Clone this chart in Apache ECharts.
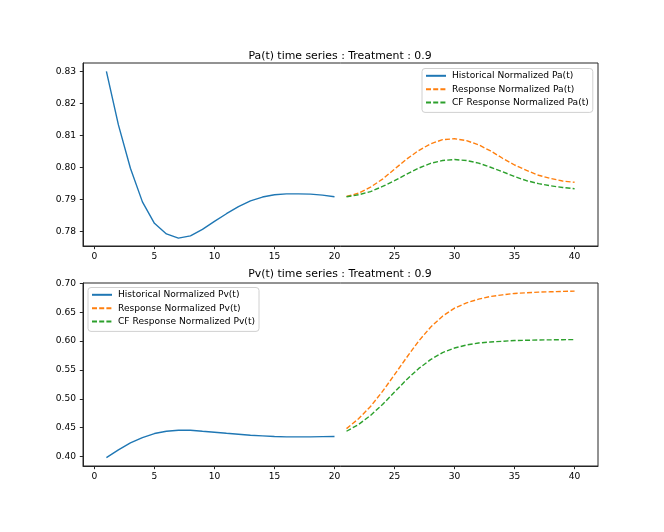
<!DOCTYPE html>
<html>
<head>
<meta charset="utf-8">
<script src="https://cdn.jsdelivr.net/npm/echarts@6/dist/echarts.min.js"></script>
<style>
html,body{margin:0;padding:0;background:#fff;}
#c{width:664px;height:532px;}
</style>
</head>
<body>
<div id="c"></div>
<script>
// ---- data ----
const tHist = [1,2,3,4,5,6,7,8,9,10,11,12,13,14,15,16,17,18,19,20];
const tResp = [21,22,23,24,25,26,27,28,29,30,31,32,33,34,35,36,37,38,39,40];

const paHist = [0.8300,0.8133,0.7998,0.7893,0.7826,0.7793,0.7780,0.7787,0.7807,0.7832,
                0.7856,0.7878,0.7896,0.7908,0.7915,0.7918,0.7918,0.7917,0.7914,0.7909];
const paResp = [0.7910,0.7920,0.7939,0.7964,0.7995,0.8026,0.8053,0.8074,0.8087,0.8090,
                0.8084,0.8071,0.8052,0.8029,0.8008,0.7991,0.7976,0.7966,0.7958,0.7954];
const paCF   = [0.7909,0.7915,0.7925,0.7941,0.7959,0.7979,0.7998,0.8013,0.8022,0.8025,
                0.8022,0.8014,0.8001,0.7987,0.7972,0.7959,0.7950,0.7943,0.7938,0.7934];

const pvHist = [0.3982,0.4116,0.4238,0.4330,0.4399,0.4439,0.4457,0.4457,0.4439,0.4422,
                0.4404,0.4387,0.4370,0.4359,0.4347,0.4342,0.4342,0.4342,0.4345,0.4347];
const pvResp = [0.4485,0.4655,0.4868,0.5129,0.5419,0.5714,0.5998,0.6241,0.6432,0.6571,
                0.6663,0.6727,0.6774,0.6802,0.6826,0.6837,0.6849,0.6855,0.6861,0.6866];
const pvCF   = [0.4439,0.4556,0.4712,0.4903,0.5117,0.5332,0.5523,0.5680,0.5801,0.5881,
                0.5933,0.5968,0.5985,0.5998,0.6010,0.6015,0.6020,0.6022,0.6025,0.6027];

const xTicks = [0,5,10,15,20,25,30,35,40];
const paTicks = [0.78,0.79,0.80,0.81,0.82,0.83];
const pvTicks = [0.40,0.45,0.50,0.55,0.60,0.65,0.70];

const titles = ['Pa(t) time series : Treatment : 0.9', 'Pv(t) time series : Treatment : 0.9'];
const paNames = ['Historical Normalized Pa(t)','Response Normalized Pa(t)','CF Response Normalized Pa(t)'];
const pvNames = ['Historical Normalized Pv(t)','Response Normalized Pv(t)','CF Response Normalized Pv(t)'];

// ---- build ----
const zip = (xs, ys) => xs.map((x,i)=>[x, ys[i]]);
const FONT = 'DejaVu Sans';
const colors = ['#1f77b4','#ff7f0e','#2ca02c'];
const AX = '#262626';

function xAxisCfg(gi){
  return {
    type:'value', gridIndex:gi, min:-0.95, max:41.95,
    splitLine:{show:false},
    axisLine:{show:true, onZero:false, lineStyle:{color:AX, width:1}},
    axisTick:{show:true, length:3.2, customValues:xTicks, lineStyle:{color:AX, width:1}},
    axisLabel:{customValues:xTicks, color:'#000', fontFamily:FONT, fontSize:9.1, margin:6,
               formatter:v=>String(Math.round(v))}
  };
}
function yAxisCfg(gi, min, max, ticks){
  return {
    type:'value', gridIndex:gi, min:min, max:max,
    splitLine:{show:false},
    axisLine:{show:true, onZero:false, lineStyle:{color:AX, width:1}},
    axisTick:{show:true, length:3.2, customValues:ticks, lineStyle:{color:AX, width:1}},
    axisLabel:{customValues:ticks, color:'#000', fontFamily:FONT, fontSize:9.1, margin:7,
               formatter:v=>v.toFixed(2)}
  };
}
function line(name, xi, data, color, dashed){
  return {
    name:name, type:'line', xAxisIndex:xi, yAxisIndex:xi, data:data,
    symbol:'none', showSymbol:false, smooth:false, animation:false,
    lineStyle:{color:color, width:1.4, type: dashed ? [5,2.2] : 'solid'},
    itemStyle:{color:color}
  };
}
function legendCfg(names, left, top){
  return {
    data:names, orient:'vertical', left:left, top:top,
    itemWidth:20, itemHeight:12, itemGap:3.8,
    padding:[2.5,4,5,3],
    borderColor:'#d0d0d0', borderWidth:1, borderRadius:3,
    backgroundColor:'rgba(255,255,255,0.8)',
    itemStyle:{opacity:0},
    textStyle:{color:'#000', fontFamily:FONT, fontSize:9.1, padding:[0,0,0,1]}
  };
}

const option = {
  animation:false,
  backgroundColor:'#fff',
  title:[
    {text:titles[0], left:340, top:50.5, textAlign:'center', padding:0,
     textStyle:{fontFamily:FONT, fontSize:10.9, fontWeight:'normal', color:'#000'}},
    {text:titles[1], left:340, top:268.5, textAlign:'center', padding:0,
     textStyle:{fontFamily:FONT, fontSize:10.9, fontWeight:'normal', color:'#000'}}
  ],
  grid:[
    {left:83, right:66, top:63, height:183, show:true, borderColor:AX, borderWidth:1, backgroundColor:'transparent'},
    {left:83, right:66, top:283, height:183, show:true, borderColor:AX, borderWidth:1, backgroundColor:'transparent'}
  ],
  xAxis:[xAxisCfg(0), xAxisCfg(1)],
  yAxis:[yAxisCfg(0, 0.77553, 0.83262, paTicks), yAxisCfg(1, 0.3837, 0.7007, pvTicks)],
  legend:[legendCfg(paNames, 422, 68.5), legendCfg(pvNames, 88, 287.5)],
  series:[
    line(paNames[0], 0, zip(tHist, paHist), colors[0], false),
    line(paNames[1], 0, zip(tResp, paResp), colors[1], true),
    line(paNames[2], 0, zip(tResp, paCF), colors[2], true),
    line(pvNames[0], 1, zip(tHist, pvHist), colors[0], false),
    line(pvNames[1], 1, zip(tResp, pvResp), colors[1], true),
    line(pvNames[2], 1, zip(tResp, pvCF), colors[2], true)
  ]
};
const chart = echarts.init(document.getElementById('c'), null, {renderer:'canvas'});
chart.setOption(option);
</script>
</body>
</html>
